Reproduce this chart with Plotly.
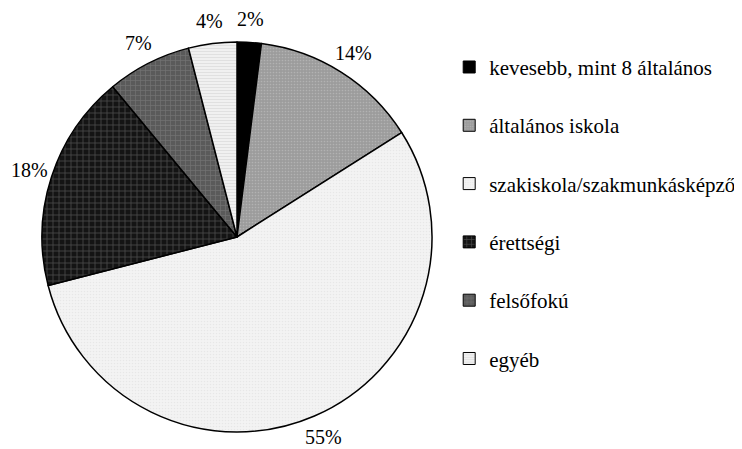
import numpy as np
import plotly.graph_objs as go

labels = ['kevesebb, mint 8 általános', 'általános iskola', 'szakiskola/szakmunkásképző',
          'érettségi', 'felsőfokú', 'egyéb']
values = [2, 14, 55, 18, 7, 4]

colors = ['#000000', '#9c9c9c', '#f3f3f3', '#141414', '#5a5a5a', '#f0f0f0']
pattern_shapes = ['', '.', '.', '+', '+', '-']
pattern_fg = ['#000000', '#c8c8c8', '#dcdcdc', '#808080', '#8c8c8c', '#c4c4c4']
pattern_size = [4, 3, 3, 6, 5, 3]

W, H = 742, 449
# pie centre and radius in figure pixels
cx, cy, r = 229, 229, 195
label_dist = 218

font = dict(family='Liberation Serif, Times New Roman, serif', size=20, color='black')
legend_font = dict(family='Liberation Serif, Times New Roman, serif', size=21, color='black')

fig = go.Figure()

fig.add_trace(go.Pie(
    labels=labels,
    values=values,
    sort=False,
    direction='clockwise',
    rotation=0,
    textinfo='none',
    marker=dict(
        colors=colors,
        line=dict(color='black', width=1.5),
        pattern=dict(shape=pattern_shapes, fgcolor=pattern_fg, size=pattern_size,
                     solidity=0.25, fillmode='overlay'),
    ),
    showlegend=False,
    hoverinfo='label+percent',
    domain=dict(x=[(cx - r) / W, (cx + r) / W],
                y=[(H - cy - r) / H, (H - cy + r) / H]),
))

# percentage labels around the pie, placed at each slice's mid angle
total = sum(values)
cum = np.cumsum([0] + values[:-1])
for v, c in zip(values, cum):
    theta = np.radians((c + v / 2) / total * 360)
    fig.add_annotation(
        x=(cx + label_dist * np.sin(theta)) / W,
        y=(H - cy + label_dist * np.cos(theta)) / H,
        xref='paper', yref='paper',
        text=f'{v}%', showarrow=False,
        xanchor='center', yanchor='middle',
        font=font,
    )

# legend entries
for i, name in enumerate(labels):
    fig.add_trace(go.Bar(
        x=[None], y=[None],
        name=name,
        legendgroup=name,
        marker=dict(
            color=colors[i],
            line=dict(color='black', width=1),
            pattern=dict(shape=pattern_shapes[i], fgcolor=pattern_fg[i],
                         size=pattern_size[i], solidity=0.25, fillmode='overlay'),
        ),
    ))

fig.update_layout(
    width=W,
    height=H,
    margin=dict(l=0, r=0, t=0, b=0, autoexpand=False),
    paper_bgcolor='white',
    plot_bgcolor='white',
    font=font,
    xaxis=dict(visible=False),
    yaxis=dict(visible=False),
    legend=dict(x=0.5946, y=0.9135, xanchor='left', yanchor='top', tracegroupgap=28,
                font=legend_font, itemclick=False),
)

fig.write_html("out.html")
